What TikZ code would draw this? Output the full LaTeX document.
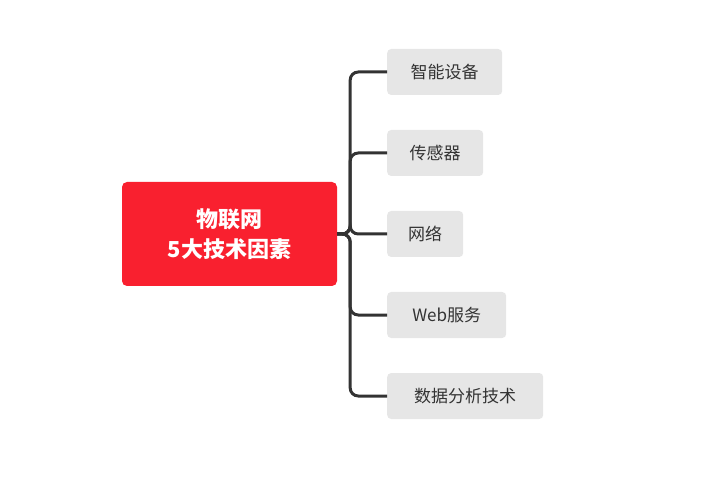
\documentclass[tikz,border=0pt]{standalone}
\usepackage{fontspec}
\setmainfont{Noto Sans CJK SC}
\definecolor{hub}{HTML}{F9202F}
\definecolor{leaf}{HTML}{E6E6E6}
\definecolor{ink}{HTML}{333333}
\tikzset{
 leafbox/.style={fill=leaf,rounded corners=4pt,anchor=west,minimum height=46pt,inner xsep=9pt,text=ink,font=\fontsize{17}{20}\selectfont},
 link/.style={draw=ink,line width=3pt,rounded corners=8pt}
}
\begin{document}
\begin{tikzpicture}[x=1pt,y=1pt]
\useasboundingbox (0,0) rectangle (703,482);
\node[fill=hub,rounded corners=5pt,minimum width=215pt,minimum height=104pt,text=white,align=center,font=\bfseries\fontsize{22}{30}\selectfont] (c) at (229.5,248) {物联网\\5大技术因素};
\node[leafbox,minimum width=115pt] (a) at (387,410) {智能设备};
\node[leafbox,minimum width=96pt] (b) at (387,329) {传感器};
\node[leafbox,minimum width=76pt] (n) at (387,248) {网络};
\node[leafbox,minimum width=119pt] (w) at (387,167) {Web服务};
\node[leafbox,minimum width=156pt] (d) at (387,86) {数据分析技术};
\foreach \t in {a,b,n,w,d}
  \draw[link] (c.east) -- ++(13,0) |- (\t.west);
\end{tikzpicture}
\end{document}
